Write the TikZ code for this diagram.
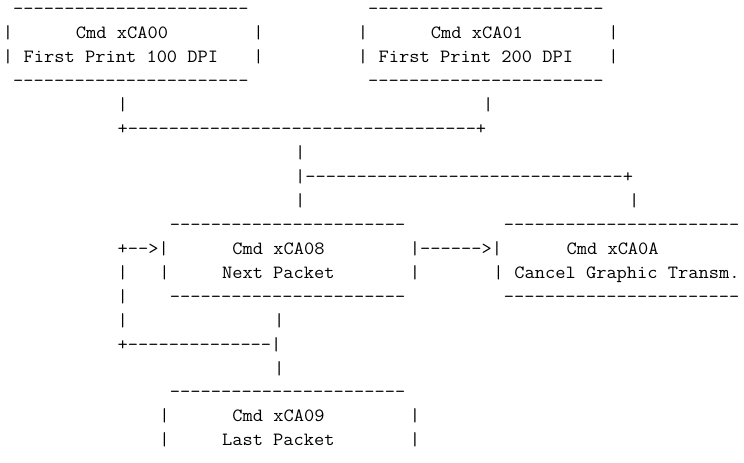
\documentclass[tikz,border=0pt]{standalone}
\usepackage{fontspec}
\setmonofont{Latin Modern Mono}[FakeStretch=1.065]
\usepackage{tikz}

% run of n hyphens, as typed in the listing
\newcommand{\dashes}[1]{\foreach \k in {1,...,#1}{-}}

\tikzset{
    ascii/.style={anchor=base west, inner sep=0pt, outer sep=0pt,
        font=\ttfamily\fontsize{14pt}{18pt}\selectfont}
}

\begin{document}
\begin{tikzpicture}[x=7.83pt, y=-17.985pt]
    % Frame (one unit = one character cell / one line)
    \useasboundingbox (-0.268,-0.596) rectangle (70.995,18.711);
    % Box xCA00
    \node[ascii] (ca00top) at (1,0) {\dashes{23}};
    \node[ascii] (ca00l) at (0,1) {|};
    \node[ascii] (ca00cmd) at (7,1) {Cmd xCA00};
    \node[ascii] (ca00r) at (24,1) {|};
    \node[ascii] (ca00l2) at (0,2) {|};
    \node[ascii] (ca00txt) at (2,2) {First Print 100 DPI};
    \node[ascii] (ca00r2) at (24,2) {|};
    \node[ascii] (ca00bot) at (1,3) {\dashes{23}};
    % Box xCA01
    \node[ascii] (ca01top) at (35,0) {\dashes{23}};
    \node[ascii] (ca01l) at (34,1) {|};
    \node[ascii] (ca01cmd) at (41,1) {Cmd xCA01};
    \node[ascii] (ca01r) at (58,1) {|};
    \node[ascii] (ca01l2) at (34,2) {|};
    \node[ascii] (ca01txt) at (36,2) {First Print 200 DPI};
    \node[ascii] (ca01r2) at (58,2) {|};
    \node[ascii] (ca01bot) at (35,3) {\dashes{23}};
    % Join of both first prints
    \node[ascii] (downA) at (11,4) {|};
    \node[ascii] (downB) at (46,4) {|};
    \node[ascii] (join) at (11,5) {+\dashes{34}+};
    \node[ascii] (stem1) at (28,6) {|};
    \node[ascii] (split) at (28,7) {|\dashes{31}+};
    \node[ascii] (stem2) at (28,8) {|};
    \node[ascii] (stem3) at (60,8) {|};
    % Box xCA08 and box xCA0A
    \node[ascii] (ca08top) at (16,9) {\dashes{23}};
    \node[ascii] (ca0Atop) at (48,9) {\dashes{23}};
    \node[ascii] (loopin) at (11,10) {+-->|};
    \node[ascii] (ca08cmd) at (22,10) {Cmd xCA08};
    \node[ascii] (cancel) at (39,10) {|\dashes{6}>|};
    \node[ascii] (ca0Acmd) at (54,10) {Cmd xCA0A};
    \node[ascii] (loop1) at (11,11) {|};
    \node[ascii] (ca08l) at (15,11) {|};
    \node[ascii] (ca08txt) at (21,11) {Next Packet};
    \node[ascii] (ca08r) at (39,11) {|};
    \node[ascii] (ca0Al) at (47,11) {|};
    \node[ascii] (ca0Atxt) at (49,11) {Cancel Graphic Transm.};
    \node[ascii] (loop2) at (11,12) {|};
    \node[ascii] (ca08bot) at (16,12) {\dashes{23}};
    \node[ascii] (ca0Abot) at (48,12) {\dashes{23}};
    % Loop back and last packet
    \node[ascii] (loop3) at (11,13) {|};
    \node[ascii] (stem4) at (26,13) {|};
    \node[ascii] (loopout) at (11,14) {+\dashes{14}|};
    \node[ascii] (stem5) at (26,15) {|};
    % Box xCA09
    \node[ascii] (ca09top) at (16,16) {\dashes{23}};
    \node[ascii] (ca09l) at (15,17) {|};
    \node[ascii] (ca09cmd) at (22,17) {Cmd xCA09};
    \node[ascii] (ca09r) at (39,17) {|};
    \node[ascii] (ca09l2) at (15,18) {|};
    \node[ascii] (ca09txt) at (21,18) {Last Packet};
    \node[ascii] (ca09r2) at (39,18) {|};
\end{tikzpicture}
\end{document}
